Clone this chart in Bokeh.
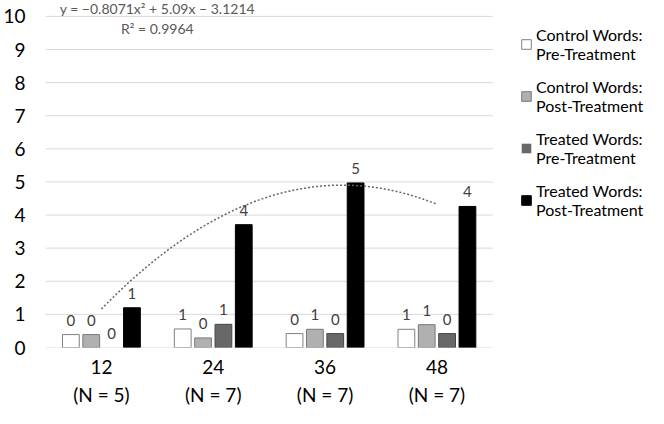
from bokeh.plotting import figure
from bokeh.models import (ColumnDataSource, FixedTicker, Legend, LegendItem,
                          LabelSet, Label, Range1d, LinearAxis)
from bokeh.core.properties import value
from bokeh.embed import file_html
from bokeh.resources import INLINE
import numpy as np

# ---- data ----
ages = ["12", "24", "36", "48"]
group_n = [5, 7, 7, 7]
series_names = ["Control Words:\nPre-Treatment", "Control Words:\nPost-Treatment",
                "Treated Words:\nPre-Treatment", "Treated Words:\nPost-Treatment"]
control_pre = [0.39, 0.56, 0.42, 0.55]
control_post = [0.39, 0.29, 0.55, 0.69]
treated_pre = [0.0, 0.70, 0.42, 0.42]
treated_post = [1.20, 3.71, 4.97, 4.26]
y_ticks = [0, 1, 2, 3, 4, 5, 6, 7, 8, 9, 10]
trend_a, trend_b, trend_c = -0.8071, 5.09, -3.1214
trend_text = "y = \u22120.8071x\u00b2 + 5.09x \u2212 3.1214"
r2_text = "R\u00b2 = 0.9964"

FONT = "Lato"
fills = ["#ffffff", "#b0b0b0", "#686868", "#000000"]
lines = ["#808080", "#7a7a7a", "#454545", "#000000"]
offsets = [-0.273, -0.091, 0.091, 0.273]
bar_w = 0.15
LEFT = 36
W, H = 648, 408
px_per_cat = 113.5
x_end = 0.5 + (W - LEFT) / px_per_cat

p = figure(width=W, height=H, output_backend="svg", toolbar_location=None,
           x_range=Range1d(0.5, x_end), y_range=Range1d(0, 10.45),
           min_border_top=1, min_border_left=LEFT, min_border_bottom=0,
           min_border_right=0)
p.outline_line_color = None
p.background_fill_color = "white"
p.xgrid.grid_line_color = None
p.ygrid.grid_line_color = None

xs = [1, 2, 3, 4]

# gridlines limited to the category area
p.segment(x0=[0.5] * len(y_ticks), x1=[4.5] * len(y_ticks), y0=y_ticks, y1=y_ticks,
          line_color="#d9d9d9", line_width=1)

series = [control_pre, control_post, treated_pre, treated_post]
items = []
for i, vals in enumerate(series):
    src = ColumnDataSource(dict(x=[x + offsets[i] for x in xs], top=vals,
                                lab=[str(int(np.floor(v + 0.5))) for v in vals],
                                la=[1.0 if v > 0 else 0.0 for v in vals]))
    r = p.vbar(x="x", top="top", width=bar_w, source=src, fill_color=fills[i],
               line_color=lines[i], line_width=1, line_alpha="la")
    items.append(LegendItem(label=series_names[i], renderers=[r]))
    ls = LabelSet(x="x", y="top", text="lab", source=src, text_align="center",
                  text_baseline="alphabetic", y_offset=9, text_font=value(FONT),
                  text_font_size=value("15px"), text_color=value("#404040"))
    p.add_layout(ls)

# trendline (from the displayed equation)
tx = np.linspace(1, 4, 120)
ty = trend_a * tx ** 2 + trend_b * tx + trend_c
p.line(tx, ty, line_color="#666666", line_width=1.5, line_dash="2 2")

p.add_layout(Label(x=1.5, y=10.24, text=trend_text, text_align="center",
                   text_baseline="middle", text_font=FONT, text_font_size="14px",
                   text_color="#595959"))
p.add_layout(Label(x=1.5, y=9.64, text=r2_text, text_align="center",
                   text_baseline="middle", text_font=FONT, text_font_size="14px",
                   text_color="#595959"))

# axes
p.yaxis.ticker = FixedTicker(ticks=y_ticks)
p.yaxis.axis_line_color = None
p.yaxis.major_tick_line_color = None
p.yaxis.minor_tick_line_color = None
p.yaxis.major_label_standoff = 14
p.yaxis.major_label_text_font = FONT
p.yaxis.major_label_text_font_size = "19px"
p.yaxis.major_label_text_color = "#000000"


def style_x(ax, standoff):
    ax.ticker = FixedTicker(ticks=xs)
    ax.axis_line_color = None
    ax.major_tick_line_color = None
    ax.minor_tick_line_color = None
    ax.major_tick_out = 0
    ax.major_label_standoff = standoff
    ax.major_label_text_font = FONT
    ax.major_label_text_font_size = "19px"
    ax.major_label_text_color = "#000000"


style_x(p.xaxis[0], 12)
p.xaxis[0].major_label_overrides = {x: a for x, a in zip(xs, ages)}
ax2 = LinearAxis()
style_x(ax2, 6)
ax2.major_label_overrides = {x: f"(N = {n})" for x, n in zip(xs, group_n)}
p.add_layout(ax2, "below")

legend = Legend(items=items, location=(475, 128))
legend.label_text_font = FONT
legend.label_text_font_size = "16px"
legend.label_text_color = "#000000"
legend.glyph_width = 12
legend.glyph_height = 12
legend.label_standoff = 4
legend.spacing = 14
legend.padding = 2
legend.margin = 0
legend.border_line_color = None
legend.background_fill_alpha = 0
p.add_layout(legend, "center")

open("out.html", "w").write(file_html(p, INLINE))
